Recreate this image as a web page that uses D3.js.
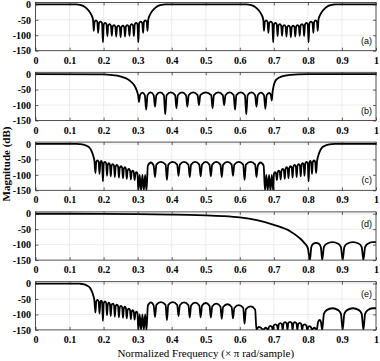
<!DOCTYPE html>
<html>
<head>
<script src="https://d3js.org/d3.v7.min.js"></script>
<style>
    body { margin: 0; background: #ffffff; }
    .tick text { font-family: "Liberation Serif", "Times New Roman", serif; font-weight: bold; font-size: 10px; fill: #000; }
    .tick line { stroke: #262626; stroke-width: 0.7; }
    .panel-label { font-family: "Liberation Sans", Arial, sans-serif; font-size: 9px; fill: #000; }
</style>
</head>
<body>
<svg id="chart" width="380" height="361"></svg>
<script>
// axis ticks
const freqTicks = [0, 0.1, 0.2, 0.3, 0.4, 0.5, 0.6, 0.7, 0.8, 0.9, 1];
const freqTickLabels = ["0", "0.1", "0.2", "0.3", "0.4", "0.5", "0.6", "0.7", "0.8", "0.9", "1"];
const dbTicks = [0, -50, -100, -150];
const dbTickLabels = ["0", "-50", "-100", "-150"];
const panelLabels = ["(a)", "(b)", "(c)", "(d)", "(e)"];
const labelAtTop = [false, false, false, true, true];

// magnitude responses: [normalized frequency, dB]
const respA = [
    [0,0],[0.1,0],[0.12,-0.3],[0.13,-1.5],[0.14,-5],[0.15,-13],[0.16,-26],[0.165,-36],[0.169,-50],
    [0.171,-86],[0.1735,-57],[0.1775,-52],[0.1815,-57],
    [0.184,-92],[0.1865,-61],[0.191,-56],[0.1955,-61],
    [0.198,-123],[0.2005,-65],[0.2045,-60],[0.2085,-65],
    [0.211,-103],[0.2135,-69],[0.2175,-64],[0.2215,-69],
    [0.224,-102],[0.2265,-72],[0.2305,-67],[0.2345,-72],
    [0.237,-104],[0.2395,-74],[0.2435,-69],[0.2475,-74],
    [0.25,-106],[0.2525,-74],[0.2565,-69],[0.2605,-74],
    [0.263,-104],[0.2655,-72],[0.2695,-67],[0.2735,-72],
    [0.276,-102],[0.2785,-69],[0.2825,-64],[0.2865,-69],
    [0.289,-103],[0.2915,-65],[0.2955,-60],[0.2995,-65],
    [0.302,-123],[0.3045,-61],[0.309,-56],[0.3135,-61],
    [0.316,-92],[0.3185,-57],[0.3225,-52],[0.3265,-57],
    [0.329,-86],
    [0.331,-50],[0.335,-36],[0.34,-26],[0.35,-13],[0.36,-5],[0.37,-1.5],[0.38,-0.3],[0.4,0],
    [0.6,0],[0.62,-0.3],[0.63,-1.5],[0.64,-5],[0.65,-13],[0.66,-26],[0.665,-36],[0.669,-50],
    [0.671,-86],[0.6735,-57],[0.6775,-52],[0.6815,-57],
    [0.684,-92],[0.6865,-61],[0.691,-56],[0.6955,-61],
    [0.698,-123],[0.7005,-65],[0.7045,-60],[0.7085,-65],
    [0.711,-103],[0.7135,-69],[0.7175,-64],[0.7215,-69],
    [0.724,-102],[0.7265,-72],[0.7305,-67],[0.7345,-72],
    [0.737,-104],[0.7395,-74],[0.7435,-69],[0.7475,-74],
    [0.75,-106],[0.7525,-74],[0.7565,-69],[0.7605,-74],
    [0.763,-104],[0.7655,-72],[0.7695,-67],[0.7735,-72],
    [0.776,-102],[0.7785,-69],[0.7825,-64],[0.7865,-69],
    [0.789,-103],[0.7915,-65],[0.7955,-60],[0.7995,-65],
    [0.802,-123],[0.8045,-61],[0.809,-56],[0.8135,-61],
    [0.816,-92],[0.8185,-57],[0.8225,-52],[0.8265,-57],
    [0.829,-86],
    [0.831,-50],[0.835,-36],[0.84,-26],[0.85,-13],[0.86,-5],[0.87,-1.5],[0.88,-0.3],[0.9,0],[1,0]
];

const respB = [
    [0,0],[0.2,-0.5],[0.22,-2],[0.24,-5],[0.26,-11],[0.27,-16],[0.28,-24],[0.29,-36],[0.297,-52],[0.302,-72],[0.304,-90],
    [0.307,-68],[0.314,-60],[0.321,-68],[0.325,-115],
    [0.329,-68],[0.338,-59],[0.347,-68],[0.351,-105],
    [0.355,-68],[0.366,-59],[0.377,-68],[0.381,-130],
    [0.385,-68],[0.397,-59],[0.41,-68],[0.414,-110],
    [0.418,-68],[0.43,-59],[0.442,-68],[0.446,-105],
    [0.45,-68],[0.463,-59],[0.476,-68],[0.48,-100],
    [0.484,-68],[0.5,-59],[0.516,-68],[0.52,-110],
    [0.524,-68],[0.537,-59],[0.55,-68],[0.554,-100],
    [0.558,-68],[0.57,-59],[0.582,-68],[0.586,-115],
    [0.59,-68],[0.603,-59],[0.615,-68],[0.619,-130],
    [0.623,-68],[0.634,-59],[0.645,-68],[0.649,-105],
    [0.653,-68],[0.662,-60],[0.671,-68],[0.675,-112],
    [0.679,-68],[0.686,-61],[0.691,-67],[0.694,-85],
    [0.696,-60],[0.699,-40],[0.703,-25],[0.71,-15],[0.72,-9],[0.73,-5.5],[0.75,-2],[0.77,-0.5],[0.8,0],[1,0]
];

const respC = [
    [0,0],[0.12,0],[0.13,-0.5],[0.14,-2],[0.15,-6],[0.16,-14],[0.165,-24],[0.17,-40],[0.173,-55],
    [0.176,-94],[0.1785,-58],[0.182,-53],[0.1855,-58],
    [0.188,-97],[0.1905,-60],[0.193,-55],[0.1955,-60],
    [0.198,-121],[0.2005,-63],[0.204,-58],[0.2075,-63],
    [0.21,-103],[0.2125,-67],[0.2155,-62],[0.2185,-67],
    [0.221,-105],[0.2235,-70],[0.227,-65],[0.2305,-70],
    [0.233,-107],[0.2355,-73],[0.239,-68],[0.2425,-73],
    [0.245,-109],[0.2475,-77],[0.251,-72],[0.2545,-77],
    [0.257,-111],[0.2595,-80],[0.2625,-75],[0.2655,-80],
    [0.268,-113],[0.2705,-86],[0.274,-81],[0.2775,-86],
    [0.28,-115],[0.2825,-91],[0.2855,-86],[0.2885,-91],
    [0.291,-117],[0.2935,-96],[0.2965,-91],[0.2995,-96],
    [0.302,-150],[0.306,-100],[0.31,-150],[0.314,-100],[0.318,-150],[0.322,-100],[0.326,-150],
    [0.33,-70],[0.339,-60],[0.347,-70],[0.351,-107],
    [0.355,-67],[0.368,-58],[0.382,-67],[0.386,-116],
    [0.39,-67],[0.403,-58],[0.416,-67],[0.42,-103],
    [0.424,-67],[0.436,-58],[0.449,-67],[0.453,-107],
    [0.457,-67],[0.469,-58],[0.481,-67],[0.485,-105],
    [0.489,-67],[0.5,-58],[0.511,-67],[0.515,-105],
    [0.519,-67],[0.531,-58],[0.543,-67],[0.547,-107],
    [0.551,-67],[0.564,-58],[0.576,-67],[0.58,-103],
    [0.584,-67],[0.597,-58],[0.61,-67],[0.614,-116],
    [0.618,-67],[0.632,-58],[0.645,-67],[0.649,-107],
    [0.653,-70],[0.661,-60],[0.67,-70],[0.674,-150],
    [0.678,-100],[0.682,-150],[0.686,-100],[0.69,-150],[0.694,-100],[0.698,-150],
    [0.7005,-96],[0.7035,-91],[0.7065,-96],
    [0.709,-117],[0.7115,-91],[0.7145,-86],[0.7175,-91],
    [0.72,-115],[0.7225,-86],[0.726,-81],[0.7295,-86],
    [0.732,-113],[0.7345,-80],[0.7375,-75],[0.7405,-80],
    [0.743,-111],[0.7455,-77],[0.749,-72],[0.7525,-77],
    [0.755,-109],[0.7575,-73],[0.761,-68],[0.7645,-73],
    [0.767,-107],[0.7695,-70],[0.773,-65],[0.7765,-70],
    [0.779,-105],[0.7815,-67],[0.7845,-62],[0.7875,-67],
    [0.79,-103],[0.7925,-63],[0.796,-58],[0.7995,-63],
    [0.802,-121],[0.8045,-60],[0.807,-55],[0.8095,-60],
    [0.812,-97],[0.8145,-58],[0.818,-53],[0.8215,-58],
    [0.824,-94],
    [0.827,-55],[0.83,-40],[0.835,-24],[0.84,-14],[0.85,-6],[0.86,-2],[0.87,-0.5],[0.88,0],[1,0]
];

const respD = [
    [0,0],[0.1,0],[0.2,-0.3],[0.3,-1],[0.4,-2.5],[0.45,-3.5],[0.5,-5],[0.55,-7.5],[0.6,-12],[0.65,-21],
    [0.7,-36],[0.75,-58],[0.775,-78],[0.79,-95],[0.8,-112],[0.806,-150],
    [0.81,-108],[0.815,-98],[0.824,-94],[0.833,-98],[0.838,-108],[0.842,-150],
    [0.847,-108],[0.855,-97],[0.872,-92],[0.889,-97],[0.897,-108],[0.902,-150],
    [0.907,-108],[0.915,-97],[0.932,-92],[0.95,-97],[0.958,-108],[0.963,-150],
    [0.968,-108],[0.976,-97],[0.99,-92],[1,-92]
];

const respE = [
    [0,0],[0.12,0],[0.13,-0.5],[0.14,-2],[0.15,-6],[0.16,-14],[0.165,-24],[0.17,-40],[0.173,-55],
    [0.176,-94],[0.1785,-58],[0.182,-53],[0.1855,-58],
    [0.188,-97],[0.1905,-60],[0.193,-55],[0.1955,-60],
    [0.198,-121],[0.2005,-63],[0.204,-58],[0.2075,-63],
    [0.21,-103],[0.2125,-67],[0.2155,-62],[0.2185,-67],
    [0.221,-105],[0.2235,-70],[0.227,-65],[0.2305,-70],
    [0.233,-107],[0.2355,-73],[0.239,-68],[0.2425,-73],
    [0.245,-109],[0.2475,-77],[0.251,-72],[0.2545,-77],
    [0.257,-111],[0.2595,-80],[0.2625,-75],[0.2655,-80],
    [0.268,-113],[0.2705,-86],[0.274,-81],[0.2775,-86],
    [0.28,-115],[0.2825,-91],[0.2855,-86],[0.2885,-91],
    [0.291,-117],[0.2935,-96],[0.2965,-91],[0.2995,-96],
    [0.302,-150],[0.306,-100],[0.31,-150],[0.314,-100],[0.318,-150],[0.322,-100],[0.326,-150],
    [0.33,-71],[0.339,-61],[0.347,-71],[0.351,-108],
    [0.355,-69],[0.368,-60],[0.382,-69],[0.386,-118],
    [0.39,-69],[0.403,-60],[0.416,-69],[0.42,-105],
    [0.424,-70],[0.436,-61],[0.449,-70],[0.453,-110],
    [0.457,-71],[0.469,-62],[0.481,-71],[0.485,-109],
    [0.489,-72],[0.5,-63],[0.511,-72],[0.515,-110],
    [0.519,-74],[0.531,-65],[0.543,-74],[0.547,-114],
    [0.551,-76],[0.564,-67],[0.576,-76],[0.58,-113],
    [0.584,-79],[0.597,-70],[0.61,-79],[0.614,-130],
    [0.618,-83],[0.632,-74],[0.645,-84],[0.649,-150],
    [0.655,-140],[0.662,-143],[0.669,-150],
    [0.6715,-147],[0.676,-143],[0.6805,-147],[0.683,-150],
    [0.6855,-141],[0.69,-137],[0.6945,-141],[0.697,-150],
    [0.6995,-136],[0.7045,-132],[0.7095,-136],[0.712,-150],
    [0.7145,-132],[0.719,-128],[0.7235,-132],[0.726,-150],
    [0.7285,-129],[0.733,-125],[0.7375,-129],[0.74,-150],
    [0.7425,-128],[0.7475,-124],[0.7525,-128],[0.755,-150],
    [0.7575,-129],[0.762,-125],[0.7665,-129],[0.769,-150],
    [0.7715,-131],[0.776,-127],[0.7805,-131],[0.783,-150],
    [0.7855,-136],[0.7905,-132],[0.7955,-136],[0.798,-150],
    [0.8005,-142],[0.805,-138],[0.8095,-142],[0.812,-150],
    [0.8145,-147],[0.819,-143],[0.8235,-147],[0.826,-150],
    [0.83,-124],[0.835,-118],[0.838,-123],[0.842,-150],
    [0.847,-98],[0.855,-86],[0.872,-80],[0.889,-86],[0.897,-98],[0.902,-150],
    [0.907,-98],[0.915,-86],[0.932,-80],[0.95,-86],[0.958,-98],[0.963,-150],
    [0.968,-98],[0.976,-86],[0.99,-80],[1,-80]
];

const responses = [respA, respB, respC, respD, respE];

const svg = d3.select("#chart");
const left = 35.5, right = 376;
const firstTop = 2.5, step = 69.8, panelH = 48.2;

const x = d3.scaleLinear().domain([0, 1]).range([left, right]);

responses.forEach((resp, i) => {
    const top = firstTop + i * step;
    const bottom = top + panelH;
    const y = d3.scaleLinear().domain([-150, 6]).range([bottom, top]);
    const g = svg.append("g");

    // grid
    g.selectAll(".vgrid").data(freqTicks.slice(1, -1)).join("line")
        .attr("x1", d => x(d)).attr("x2", d => x(d))
        .attr("y1", top).attr("y2", bottom)
        .attr("stroke", "#e4e4e4").attr("stroke-width", 0.7);
    g.selectAll(".hgrid").data(dbTicks.slice(0, -1)).join("line")
        .attr("x1", left).attr("x2", right)
        .attr("y1", d => y(d)).attr("y2", d => y(d))
        .attr("stroke", "#e4e4e4").attr("stroke-width", 0.7);

    // curve
    svg.append("clipPath").attr("id", "clip" + i)
        .append("rect").attr("x", left).attr("y", top).attr("width", right - left).attr("height", panelH);
    const line = d3.line().x(d => x(d[0])).y(d => y(d[1])).curve(d3.curveMonotoneX);
    g.append("path").datum(resp)
        .attr("clip-path", `url(#clip${i})`)
        .attr("fill", "none").attr("stroke", "#000").attr("stroke-width", 1.8)
        .attr("stroke-linejoin", "round")
        .attr("d", line);

    // axes
    const xb = g.append("g").attr("transform", `translate(0,${bottom})`)
        .call(d3.axisBottom(x).tickValues(freqTicks).tickFormat((d, k) => freqTickLabels[k]).tickSize(-3).tickPadding(6));
    const xt = g.append("g").attr("transform", `translate(0,${top})`)
        .call(d3.axisTop(x).tickValues(freqTicks).tickFormat("").tickSize(-3));
    const yl = g.append("g").attr("transform", `translate(${left},0)`)
        .call(d3.axisLeft(y).tickValues(dbTicks).tickFormat((d, k) => dbTickLabels[k]).tickSize(-3).tickPadding(4.5));
    const yr = g.append("g").attr("transform", `translate(${right},0)`)
        .call(d3.axisRight(y).tickValues(dbTicks).tickFormat("").tickSize(-3));
    [xb, xt, yl, yr].forEach(a => a.select(".domain").remove());

    g.append("rect")
        .attr("x", left).attr("y", top).attr("width", right - left).attr("height", panelH)
        .attr("fill", "none").attr("stroke", "#262626").attr("stroke-width", 0.8);

    g.append("text").attr("class", "panel-label")
        .attr("x", 372)
        .attr("y", labelAtTop[i] ? top + 15 : bottom - 7)
        .attr("text-anchor", "end")
        .text(panelLabels[i]);
});

svg.append("text")
    .attr("transform", "translate(10,164) rotate(-90)")
    .attr("text-anchor", "middle")
    .style("font-family", "'Liberation Serif', 'Times New Roman', serif")
    .style("font-weight", "bold").style("font-size", "11px")
    .text("Magnitude (dB)");

svg.append("text")
    .attr("x", (left + right) / 2).attr("y", 357)
    .attr("text-anchor", "middle")
    .style("font-family", "'Liberation Serif', 'Times New Roman', serif")
    .style("font-size", "11px")
    .text("Normalized Frequency (\u00d7 \u03c0 rad/sample)");
</script>
</body>
</html>
